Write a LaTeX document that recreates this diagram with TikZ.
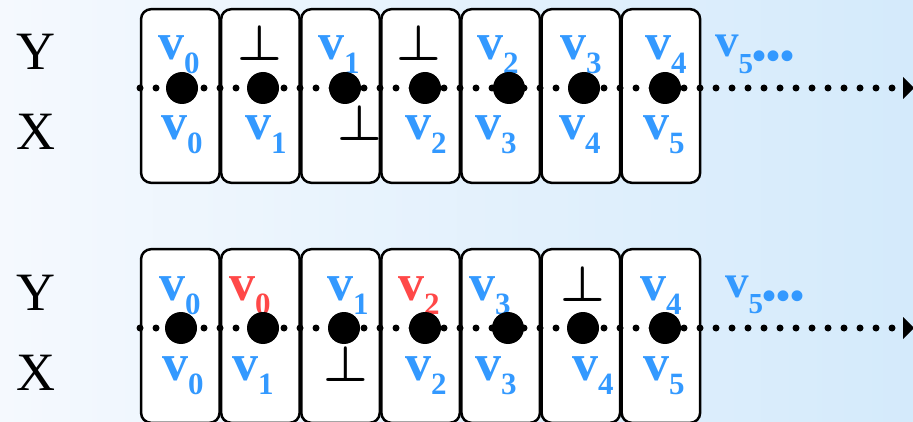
\documentclass[tikz,border=0pt]{standalone}
\usepackage{fontspec}
\setmainfont{Liberation Serif}
\usepackage{bm}
\definecolor{vblue}{HTML}{3399FF}
\definecolor{vred}{HTML}{FF4848}
\definecolor{bgleft}{HTML}{F5F9FE}
\definecolor{bgright}{HTML}{D4EAFB}
% v with a lowered index
\newcommand\vlab[1]{v\raisebox{-14pt}{\fontsize{31}{31}\selectfont #1}}
% smaller v_5 followed by dots
\newcommand\vmore{v\raisebox{-17pt}{\fontsize{29}{29}\selectfont 5\kern-1pt\raisebox{4pt}{\fontsize{40}{40}\selectfont •••}}}
% bottom element
\newcommand\bottomel{\scalebox{5}{$\bm{\perp}$}}
\tikzset{
  cell/.style={draw, line width=2.5pt, fill=white, rounded corners=10pt,
    minimum width=78.5pt, minimum height=173.6pt, inner sep=0pt},
  bigdot/.style={circle, fill=black, minimum size=32pt, inner sep=0pt},
  vl/.style={anchor=base west, inner sep=0pt,
    font=\bfseries\fontsize{52}{52}\selectfont, text=vblue},
  vr/.style={vl, text=vred},
  vm/.style={anchor=base west, inner sep=0pt,
    font=\bfseries\fontsize{47}{47}\selectfont, text=vblue},
  bot/.style={anchor=base, inner sep=0pt, font=\fontsize{10}{10}\selectfont},
  axislab/.style={anchor=base west, inner sep=0pt, font=\fontsize{54}{54}\selectfont},
  dotline/.style={line width=7pt, line cap=round, dash pattern=on 0pt off 16pt},
}
\begin{document}
\begin{tikzpicture}[x=1pt,y=-1pt]
\useasboundingbox (0,0) rectangle (913,422);
\shade[left color=bgleft, right color=bgright] (0,0) rectangle (913,422);

% row labels
\node[axislab] (ly1) at (16,70) {Y};
\node[axislab] (lx1) at (16,150) {X};
\node[axislab] (ly2) at (16,310) {Y};
\node[axislab] (lx2) at (16,390) {X};

% cells
\foreach \i in {1,...,7}{
  \node[cell] (t\i) at ({180.3+80.1*(\i-1)},96) {};
  \node[cell] (b\i) at ({180.3+80.1*(\i-1)},336) {};
}

% upper sequence, first row
\node[vl] (tu1) at (158,60) {\vlab{0}};
\node[bot] (tu2) at (260,61) {\bottomel};
\node[vl] (tu3) at (318,60) {\vlab{1}};
\node[bot] (tu4) at (419,61) {\bottomel};
\node[vl] (tu5) at (477,60) {\vlab{2}};
\node[vl] (tu6) at (560,60) {\vlab{3}};
\node[vl] (tu7) at (645,60) {\vlab{4}};
\node[vm] (tu8) at (715,57) {\vmore};
% lower sequence, first row
\node[vl] (tl1) at (161,140) {\vlab{0}};
\node[vl] (tl2) at (245,140) {\vlab{1}};
\node[bot] (tl3) at (359.5,140.5) {\bottomel};
\node[vl] (tl4) at (405,140) {\vlab{2}};
\node[vl] (tl5) at (475,140) {\vlab{3}};
\node[vl] (tl6) at (559,140) {\vlab{4}};
\node[vl] (tl7) at (643,140) {\vlab{5}};

% upper sequence, second row
\node[vl] (bu1) at (159,300) {\vlab{0}};
\node[vr] (bu2) at (229,300) {\vlab{0}};
\node[vl] (bu3) at (327,300) {\vlab{1}};
\node[vr] (bu4) at (398,300) {\vlab{2}};
\node[vl] (bu5) at (469,300) {\vlab{3}};
\node[bot] (bu6) at (582.5,301) {\bottomel};
\node[vl] (bu7) at (640,300) {\vlab{4}};
\node[vm] (bu8) at (725,297) {\vmore};
% lower sequence, second row
\node[vl] (bl1) at (162,380) {\vlab{0}};
\node[vl] (bl2) at (232,380) {\vlab{1}};
\node[bot] (bl3) at (346,381) {\bottomel};
\node[vl] (bl4) at (405,380) {\vlab{2}};
\node[vl] (bl5) at (475,380) {\vlab{3}};
\node[vl] (bl6) at (572,380) {\vlab{4}};
\node[vl] (bl7) at (643,380) {\vlab{5}};

% time lines
\coordinate (s1) at (140,88);
\coordinate (e1) at (893,88);
\coordinate (s2) at (140,328);
\coordinate (e2) at (893,328);
\draw[dotline] (s1) -- (e1);
\draw[dotline] (s2) -- (e2);
\fill (903,77) -- (914,88) -- (903,99) -- cycle;
\fill (903,317) -- (914,328) -- (903,339) -- cycle;

% events
\foreach \n/\x in {1/182,2/263,3/345,4/425,5/509,6/584,7/665}
  \node[bigdot] (dt\n) at (\x,88) {};
\foreach \n/\x in {1/181,2/263,3/344,4/425,5/508,6/583,7/665}
  \node[bigdot] (db\n) at (\x,328) {};
\end{tikzpicture}
\end{document}
